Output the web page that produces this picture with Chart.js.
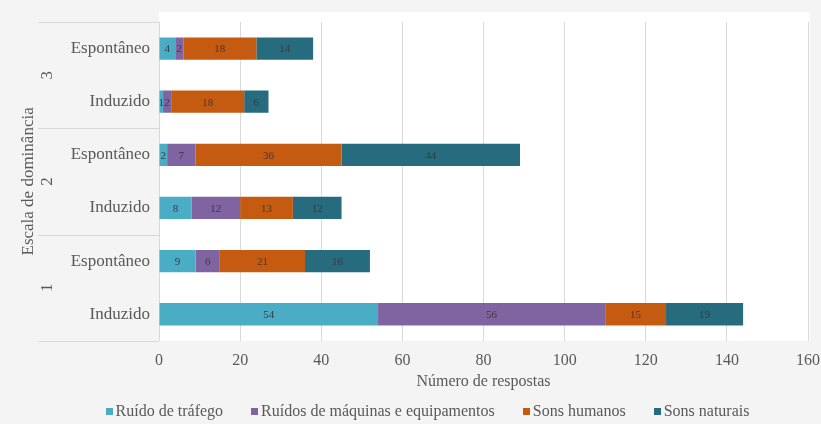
<!DOCTYPE html>
<html>
<head>
<meta charset="utf-8">
<script src="https://cdn.jsdelivr.net/npm/chart.js@4"></script>
<style>
  html, body { margin: 0; padding: 0; background: #f4f4f4; }
  #wrap { width: 821px; height: 424px; position: relative; }
</style>
</head>
<body>
<div id="wrap"><canvas id="domChart" width="821" height="424"></canvas></div>
<script>
// rows top to bottom, grouped by dominance level
const categories = ['Espontâneo', 'Induzido', 'Espontâneo', 'Induzido', 'Espontâneo', 'Induzido'];
const groups = ['3', '2', '1'];
const trafego = [4, 1, 2, 8, 9, 54];
const maquinas = [2, 2, 7, 12, 6, 56];
const humanos = [18, 18, 36, 13, 21, 15];
const naturais = [14, 6, 44, 12, 16, 19];
const xTicks = [0, 20, 40, 60, 80, 100, 120, 140, 160];

const serif = "'Liberation Serif', 'Times New Roman', serif";
const textColor = '#595959';
const lineColor = '#d9d9d9';

const seriesConfig = [
  { label: 'Ruído de tráfego', data: trafego, color: '#4bacc6' },
  { label: 'Ruídos de máquinas e equipamentos', data: maquinas, color: '#8064a2' },
  { label: 'Sons humanos', data: humanos, color: '#c55a11' },
  { label: 'Sons naturais', data: naturais, color: '#276b7e' },
];

// white plot background, slightly taller than the plot area
const plotBackground = {
  id: 'plotBackground',
  beforeDraw(chart) {
    const { ctx, chartArea } = chart;
    ctx.save();
    ctx.fillStyle = '#ffffff';
    ctx.fillRect(chartArea.left, chartArea.top - 10, chartArea.right - chartArea.left + 2, chartArea.bottom - chartArea.top + 10);
    ctx.restore();
  },
};

// value written in the middle of every segment
const segmentLabels = {
  id: 'segmentLabels',
  afterDatasetsDraw(chart) {
    const ctx = chart.ctx;
    ctx.save();
    ctx.font = '11px ' + serif;
    ctx.fillStyle = '#3b3b3b';
    ctx.textAlign = 'center';
    ctx.textBaseline = 'middle';
    chart.data.datasets.forEach((ds, i) => {
      chart.getDatasetMeta(i).data.forEach((bar, j) => {
        const p = bar.getCenterPoint();
        ctx.fillText(String(ds.data[j]), p.x, p.y + 1);
      });
    });
    ctx.restore();
  },
};

// outer category level: group numbers, separators, both axis titles
const groupAxis = {
  id: 'groupAxis',
  afterDraw(chart) {
    const { ctx, chartArea } = chart;
    const y = chart.scales.y;
    const step = y.getPixelForValue(1) - y.getPixelForValue(0);
    ctx.save();
    ctx.strokeStyle = lineColor;
    ctx.lineWidth = 1;
    for (let g = 0; g <= groups.length; g++) {
      const py = Math.round(y.getPixelForValue(g * 2) - step / 2) + 0.5;
      ctx.beginPath();
      ctx.moveTo(38, py);
      ctx.lineTo(chartArea.left, py);
      ctx.stroke();
    }
    ctx.fillStyle = textColor;
    ctx.textAlign = 'center';
    ctx.textBaseline = 'middle';
    ctx.font = '16px ' + serif;
    ctx.fillText('Número de respostas', (chartArea.left + chartArea.right) / 2, chartArea.bottom + 41);
    ctx.font = '17px ' + serif;
    groups.forEach((label, g) => {
      const py = (y.getPixelForValue(g * 2) + y.getPixelForValue(g * 2 + 1)) / 2;
      ctx.save();
      ctx.translate(48, py);
      ctx.rotate(-Math.PI / 2);
      ctx.fillText(label, 0, 0);
      ctx.restore();
    });
    ctx.translate(29, (chartArea.top + chartArea.bottom) / 2);
    ctx.rotate(-Math.PI / 2);
    ctx.fillText('Escala de dominância', 0, 0);
    ctx.restore();
  },
};

// single-row legend under the axis title, wider gaps than the built-in one
const bottomLegend = {
  id: 'bottomLegend',
  afterDraw(chart) {
    const ctx = chart.ctx;
    const box = 7, boxGap = 3, itemGap = 28;
    ctx.save();
    ctx.font = '16px ' + serif;
    ctx.textBaseline = 'middle';
    const items = chart.data.datasets.map(ds => ({
      text: ds.label,
      color: ds.backgroundColor,
      w: box + boxGap + ctx.measureText(ds.label).width,
    }));
    const total = items.reduce((s, it) => s + it.w, 0) + itemGap * (items.length - 1);
    let x = chart.width / 2 + 17 - total / 2;
    const y = chart.height - 13;
    items.forEach(it => {
      ctx.fillStyle = it.color;
      ctx.fillRect(Math.round(x), Math.round(y - box / 2), box, box);
      ctx.fillStyle = textColor;
      ctx.fillText(it.text, x + box + boxGap, y + 1);
      x += it.w + itemGap;
    });
    ctx.restore();
  },
};

const datasets = seriesConfig.map(s => ({
  label: s.label,
  data: s.data,
  backgroundColor: s.color,
  borderWidth: 0,
  barPercentage: 0.42,
  categoryPercentage: 1,
}));

new Chart(document.getElementById('domChart'), {
  type: 'bar',
  data: { labels: categories, datasets: datasets },
  plugins: [plotBackground, segmentLabels, groupAxis, bottomLegend],
  options: {
    indexAxis: 'y',
    responsive: false,
    animation: false,
    layout: { padding: { left: 12, right: 13, top: 22, bottom: 44 } },
    scales: {
      x: {
        stacked: true,
        min: 0,
        max: 160,
        afterBuildTicks(scale) {
          scale.ticks = xTicks.map(v => ({ value: v }));
        },
        afterFit(scale) {
          scale.paddingLeft = 0;
          scale.paddingRight = 0;
        },
        grid: { color: lineColor, drawTicks: false },
        border: { display: false },
        ticks: { color: textColor, font: { family: serif, size: 16 }, padding: 10 },
      },
      y: {
        stacked: true,
        afterFit(scale) {
          scale.width = 147;
        },
        grid: { display: false, drawTicks: false },
        border: { display: false },
        ticks: { color: textColor, font: { family: serif, size: 17 }, padding: 9 },
      },
    },
    plugins: {
      legend: { display: false },
      tooltip: { enabled: false },
    },
  },
});
</script>
</body>
</html>
